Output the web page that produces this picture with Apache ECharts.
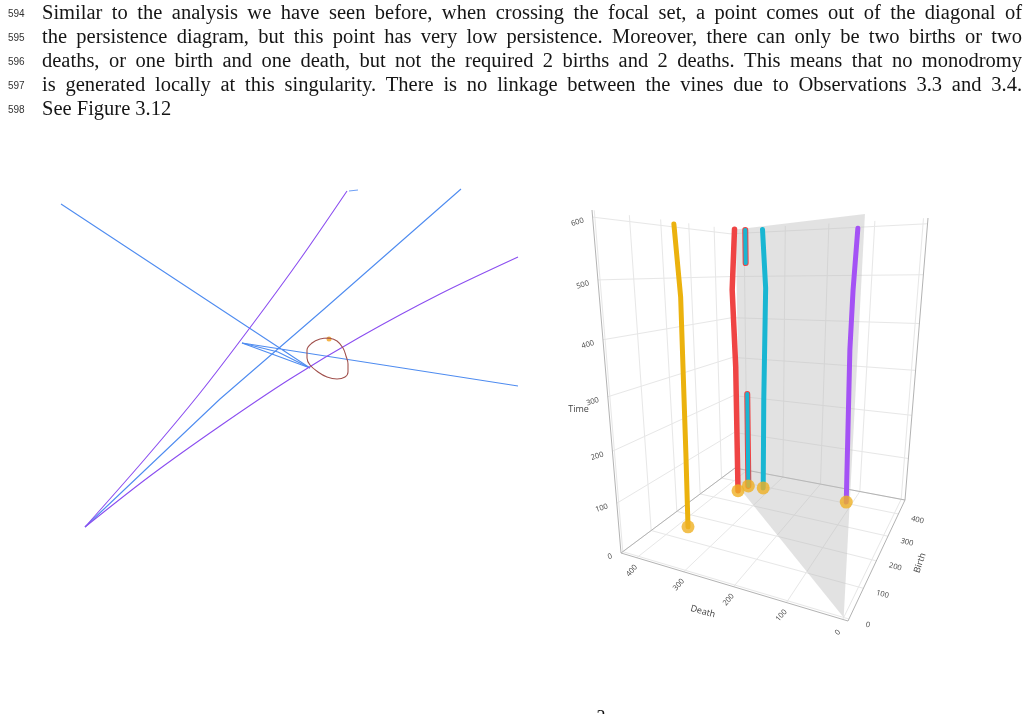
<!DOCTYPE html>
<html>
<head>
<meta charset="utf-8">
<script src="https://cdn.jsdelivr.net/npm/echarts@6/dist/echarts.min.js"></script>
<style>
  html, body { margin: 0; padding: 0; background: #fff; }
  #main { width: 1029px; height: 714px; }
</style>
</head>
<body>
<div id="main"></div>
<script>
var myChart = echarts.init(document.getElementById('main'));

// ---- page text ----
var lineNumbers = ['594', '595', '596', '597', '598'];
var textLines = [
  'Similar to the analysis we have seen before, when crossing the focal set, a point comes out of the diagonal of',
  'the persistence diagram, but this point has very low persistence. Moreover, there can only be two births or two',
  'deaths, or one birth and one death, but not the required 2 births and 2 deaths. This means that no monodromy',
  'is generated locally at this singularity. There is no linkage between the vines due to Observations 3.3 and 3.4.',
  'See Figure 3.12'
];
var pageNumber = '3';

// ---- left figure: curves of the sketch, [x, y] in diagram units ----
var blueSweep = [[2.1, 33.6], [27, 17.2], [20.2, 19.7], [47.8, 15.4]];
var blueKink = [[20.2, 19.7], [23.8, 18.8], [27, 17.2]];
var blueRise = [[4.5, 1.3], [18, 14.1], [28.3, 23], [42.1, 35.1]];
var blueHook = [[30.9, 34.9], [31.8, 35.0]];
var purpleSteep = [[4.5, 1.3], [10.4, 8.0], [16.0, 14.7], [21.2, 21.5], [26.1, 28.2], [30.7, 34.9]];
var purpleFlat = [[4.5, 1.3], [11, 6.4], [18, 11.4], [25, 16.1], [32, 20.3], [40, 24.6], [47.8, 28.3]];
var brownLoop = [[28.9, 20.2], [29.7, 19.9], [30.3, 19.2], [30.6, 18.4], [30.8, 17.6], [30.8, 16.8],
  [30.5, 16.3], [29.7, 16.1], [28.7, 16.3], [27.8, 16.8], [27.0, 17.5], [26.7, 18.2], [26.7, 19.0],
  [27.2, 19.7], [28.0, 20.1], [28.9, 20.2]];
var orangeMark = [[28.9, 20.1]];

// ---- right figure: vineyard, points are [death, birth, time] ----
var deathTicks = [0, 100, 200, 300, 400];
var birthTicks = [0, 100, 200, 300, 400];
var timeTicks = [0, 100, 200, 300, 400, 500, 600];
var deathRange = [-9, 435];
var birthRange = [-6, 468];
var timeRange = [0, 611];

var vineYellow = [[378, 150, 0], [375, 150, 161], [371, 150, 468], [378, 150, 598]];
var vineRed = [[365, 354, 0], [365, 354, 302], [370, 354, 473], [362, 354, 600]];
var vinePairLow = [[355, 388, 0], [355, 388, 232]];
var vinePairHigh = [[355, 388, 530], [355, 388, 600]];
var vineTeal = [[318, 393, 0], [316, 393, 220], [311, 393, 476], [318, 393, 600]];
var vinePurple = [[114, 406, 0], [122, 406, 348], [121, 406, 473], [117, 406, 595]];
var vineStarts = [[378, 150, 0], [365, 354, 0], [355, 388, 0], [318, 393, 0], [114, 406, 0]];
var diagonalPlane = [[0, 0, 0], [365, 365, 0], [365, 365, 600], [0, 0, 600]];

// box corners on screen inside the right grid (px), order:
// (dmin,bmin) (dmax,bmin) (dmin,bmax) (dmax,bmax)
var boxBottom = [[288, 431], [61, 363], [345, 310], [175, 278]];
var boxTop = [[311, 15], [32, 20], [368, 28], [170, 39]];
// relative depth growth along death, birth, time (perspective)
var depthStep = [0.144, 0.285, -0.152];

function project(p) {
  var u = (p[0] - deathRange[0]) / (deathRange[1] - deathRange[0]);
  var v = (p[1] - birthRange[0]) / (birthRange[1] - birthRange[0]);
  var w = (p[2] - timeRange[0]) / (timeRange[1] - timeRange[0]);
  var sx = 0, sy = 0, sw = 0;
  [boxBottom, boxTop].forEach(function (face, k) {
    var fw = k ? w : 1 - w;
    face.forEach(function (c, i) {
      var cu = i % 2, cv = i >> 1;
      var beta = fw * (cu ? u : 1 - u) * (cv ? v : 1 - v);
      var z = 1 + depthStep[0] * cu + depthStep[1] * cv + depthStep[2] * k;
      sx += beta * z * c[0];
      sy += beta * z * c[1];
      sw += beta * z;
    });
  });
  return [sx / sw, sy / sw];
}

var dLo = deathRange[0], dHi = deathRange[1], bLo = birthRange[0], bHi = birthRange[1], tHi = timeRange[1];

// light grid on floor, back wall and left wall
var gridSegs = [];
deathTicks.forEach(function (d) {
  gridSegs.push([[d, bLo, 0], [d, bHi, 0]]);
  gridSegs.push([[d, bHi, 0], [d, bHi, tHi]]);
});
birthTicks.forEach(function (b) {
  gridSegs.push([[dLo, b, 0], [dHi, b, 0]]);
  gridSegs.push([[dHi, b, 0], [dHi, b, tHi]]);
});
timeTicks.forEach(function (t) {
  gridSegs.push([[dLo, bHi, t], [dHi, bHi, t]]);
  gridSegs.push([[dHi, bLo, t], [dHi, bHi, t]]);
});
var edgeSegs = [
  [[dHi, bLo, 0], [dLo, bLo, 0]], [[dLo, bLo, 0], [dLo, bHi, 0]], [[dHi, bLo, 0], [dHi, bHi, 0]],
  [[dHi, bHi, 0], [dLo, bHi, 0]], [[dHi, bLo, 0], [dHi, bLo, tHi]], [[dLo, bHi, 0], [dLo, bHi, tHi]]
];

var tickLabels = [];
timeTicks.forEach(function (t) {
  tickLabels.push({ p: [dHi, bLo, t], text: String(t), dx: -9, dy: 3, align: 'right', rot: 0.3, size: 7.5 });
});
deathTicks.forEach(function (d) {
  tickLabels.push({ p: [d, bLo, 0], text: String(d), dx: -5, dy: 13, align: 'center', rot: 0.85, size: 7.5 });
});
birthTicks.forEach(function (b) {
  tickLabels.push({ p: [dLo, b, 0], text: String(b), dx: 19, dy: 6, align: 'center', rot: -0.25, size: 7.5 });
});
tickLabels.push({ p: [dHi, bLo, tHi / 2], text: 'Time', dx: -29, dy: 16, align: 'center', rot: 0, size: 9 });
tickLabels.push({ p: [(dLo + dHi) / 2, bLo, 0], text: 'Death', dx: -24, dy: 27, align: 'center', rot: -0.27, size: 9 });
tickLabels.push({ p: [dLo, (bLo + bHi) / 2, 0], text: 'Birth', dx: 40, dy: 10, align: 'center', rot: 1.25, size: 9 });

function segmentSeries(list, color) {
  return {
    type: 'custom', xAxisIndex: 1, yAxisIndex: 1, silent: true, z: 1,
    data: list.map(function (s) { return project(s[0]).concat(project(s[1])); }),
    encode: { x: [0, 2], y: [1, 3] },
    renderItem: function (params, api) {
      var a = api.coord([api.value(0), api.value(1)]);
      var b = api.coord([api.value(2), api.value(3)]);
      return {
        type: 'line',
        shape: { x1: a[0], y1: a[1], x2: b[0], y2: b[1] },
        style: { stroke: color, lineWidth: 1 }
      };
    }
  };
}

function vineSeries(points, color, width) {
  return {
    type: 'line', xAxisIndex: 1, yAxisIndex: 1, silent: true, z: 3,
    data: points.map(project),
    symbol: 'none',
    lineStyle: { color: color, width: width, cap: 'round', join: 'round' }
  };
}

function sketchSeries(points, color, smooth) {
  return {
    type: 'line', xAxisIndex: 0, yAxisIndex: 0, silent: true,
    data: points, symbol: 'none', smooth: smooth || false,
    lineStyle: { color: color, width: 1.1 }
  };
}

// page text, justified word by word
var bodyFont = '20.5px "Liberation Serif"';
var measure = document.createElement('canvas').getContext('2d');
measure.font = bodyFont;
var textLeft = 42, textRight = 1022;
var pageGraphics = [];
textLines.forEach(function (line, i) {
  var y = 13.5 + i * 24;
  pageGraphics.push({
    type: 'text', x: 8, y: y + 0.5, silent: true,
    style: { text: lineNumbers[i], font: '10px "Liberation Sans"', fill: '#333', verticalAlign: 'middle' }
  });
  var words = line.split(' ');
  var widths = words.map(function (w) { return measure.measureText(w).width; });
  var total = widths.reduce(function (a, b) { return a + b; }, 0);
  var last = i === textLines.length - 1;
  var gap = last ? measure.measureText(' ').width : (textRight - textLeft - total) / (words.length - 1);
  var x = textLeft;
  words.forEach(function (w, k) {
    pageGraphics.push({
      type: 'text', x: x, y: y, silent: true,
      style: { text: w, font: bodyFont, fill: '#151515', verticalAlign: 'middle' }
    });
    x += widths[k] + gap;
  });
});
pageGraphics.push({
  type: 'text', x: 601, y: 709, silent: true,
  style: { text: pageNumber, font: '18px "Liberation Serif"', fill: '#111', align: 'center', verticalAlign: 'top' }
});

var option = {
  animation: false,
  backgroundColor: '#fff',
  graphic: pageGraphics,
  grid: [
    { left: 40, top: 180, width: 490, height: 360 },
    { left: 560, top: 190, width: 400, height: 460 }
  ],
  xAxis: [
    { type: 'value', gridIndex: 0, min: 0, max: 49, show: false },
    { type: 'value', gridIndex: 1, min: 0, max: 400, show: false }
  ],
  yAxis: [
    { type: 'value', gridIndex: 0, min: 0, max: 36, show: false },
    { type: 'value', gridIndex: 1, min: 0, max: 460, inverse: true, show: false }
  ],
  series: [
    sketchSeries(blueSweep, '#4f8cf0'),
    sketchSeries(blueKink, '#4f8cf0'),
    sketchSeries(blueRise, '#4f8cf0'),
    sketchSeries(blueHook, '#6fa0f5'),
    sketchSeries(purpleSteep, '#8b4ef0', 0.3),
    sketchSeries(purpleFlat, '#8b4ef0', 0.3),
    sketchSeries(brownLoop, '#a0504c', 0.4),
    {
      type: 'scatter', xAxisIndex: 0, yAxisIndex: 0, silent: true,
      data: orangeMark, symbolSize: 5, itemStyle: { color: '#f5a31a' }
    },
    segmentSeries(gridSegs, '#e7e7e7'),
    segmentSeries(edgeSegs, '#b3b3b3'),
    {
      type: 'custom', xAxisIndex: 1, yAxisIndex: 1, silent: true, z: 2,
      data: [[].concat.apply([], diagonalPlane.map(project))],
      encode: { x: [0, 2, 4, 6], y: [1, 3, 5, 7] },
      renderItem: function (params, api) {
        var pts = [];
        for (var k = 0; k < 4; k++) pts.push(api.coord([api.value(2 * k), api.value(2 * k + 1)]));
        return { type: 'polygon', shape: { points: pts }, style: { fill: 'rgba(190,190,190,0.45)' } };
      }
    },
    {
      type: 'custom', xAxisIndex: 1, yAxisIndex: 1, silent: true, z: 2,
      data: tickLabels.map(function (l) { return project(l.p); }),
      encode: { x: 0, y: 1 },
      renderItem: function (params, api) {
        var l = tickLabels[params.dataIndex];
        var c = api.coord([api.value(0), api.value(1)]);
        return {
          type: 'text', x: c[0] + l.dx, y: c[1] + l.dy, rotation: l.rot,
          style: { text: l.text, fill: '#444', align: l.align, verticalAlign: 'middle',
            fontSize: l.size, fontFamily: '"Open Sans", "DejaVu Sans", sans-serif' }
        };
      }
    },
    vineSeries(vineRed, '#ef4444', 5.5),
    vineSeries(vinePairLow, '#ef4444', 6),
    vineSeries(vinePairHigh, '#ef4444', 6),
    vineSeries(vinePairLow, '#19b6d2', 4),
    vineSeries(vinePairHigh, '#19b6d2', 4),
    vineSeries(vineTeal, '#19b6d2', 5),
    vineSeries(vineYellow, '#ebb20e', 5),
    vineSeries(vinePurple, '#a452f5', 5),
    {
      type: 'scatter', xAxisIndex: 1, yAxisIndex: 1, silent: true, z: 4,
      data: vineStarts.map(project), symbolSize: 13, itemStyle: { color: '#efb023' }
    }
  ]
};

myChart.setOption(option);
</script>
</body>
</html>
